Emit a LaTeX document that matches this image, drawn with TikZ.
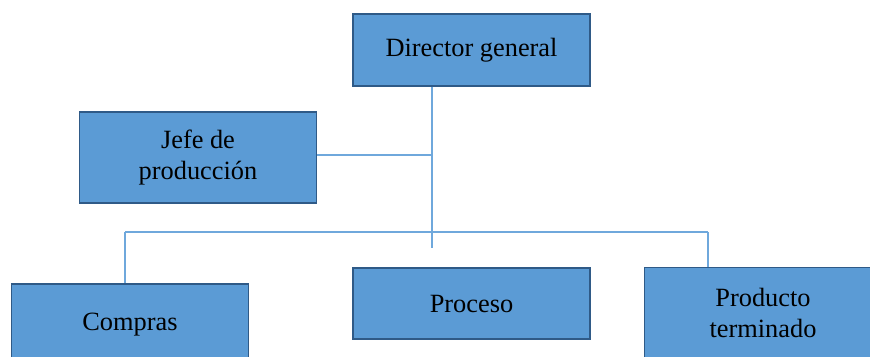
\documentclass[tikz,border=0pt]{standalone}
\usepackage{fontspec}
\setmainfont{Liberation Serif}
\usepackage{xcolor}
\definecolor{cajac}{HTML}{5B9BD5}
\definecolor{bordec}{HTML}{2F5A87}
\definecolor{lineac}{HTML}{6FA8DC}
\tikzset{
  caja/.style={draw=bordec, line width=1.1pt, fill=cajac, minimum width=4.74cm,
    minimum height=1.43cm, align=center, font=\fontsize{15}{17.5}\selectfont},
  enlace/.style={draw=lineac, line width=0.6pt},
}

\begin{document}
\begin{tikzpicture}
\useasboundingbox (0,0) rectangle (17.4,7.12);
\node[caja] (director) at (9.43,6.12) {Director general};
\node[caja, minimum height=1.82cm] (jefe) at (3.96,3.97) {Jefe de\\producción};
\node[caja, minimum height=1.64cm] (compras) at (2.6,0.62) {Compras};
\node[caja] (proceso) at (9.43,1.05) {Proceso};
\node[caja, minimum height=1.82cm] (producto) at (15.26,0.86) {Producto\\terminado};
\coordinate (tronco) at (8.64,2.16);
\coordinate (cruce) at (8.64,4.02);
\coordinate (busizq) at (2.5,2.48);
\coordinate (busder) at (14.16,2.48);
\draw[enlace] (director.south -| tronco) -- (tronco);
\draw[enlace] (cruce -| jefe.east) -- (cruce);
\draw[enlace] (busizq) -- (busder);
\draw[enlace] (busizq) -- (busizq |- compras.north);
\draw[enlace] (busder) -- (busder |- producto.north);
\end{tikzpicture}
\end{document}
